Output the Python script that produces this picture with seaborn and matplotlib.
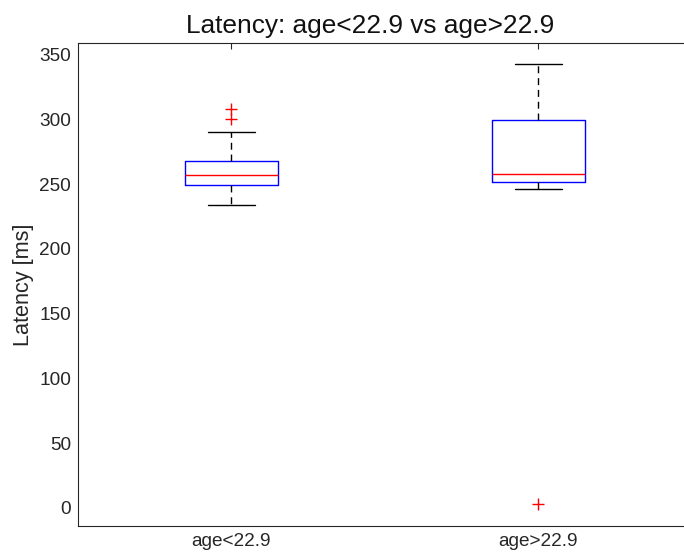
import numpy as np
import pandas as pd
import matplotlib
matplotlib.use("Agg")
import matplotlib.pyplot as plt
import seaborn as sns

# Data (values chosen to reproduce the box statistics)
categories = ["age<22.9", "age>22.9"]
young_latency = [233.7, 249.1, 249.1, 249.1, 257.1, 257.1, 257.1,
                 268.2, 268.2, 268.2, 290.0, 300.1, 307.8]
old_latency = [2.8, 246.6, 252.0, 252.0, 257.6, 257.6, 299.8, 299.8, 342.8]
title_text = "Latency: age<22.9 vs age>22.9"
ylabel_text = "Latency [ms]"
yticks = [0, 50, 100, 150, 200, 250, 300, 350]

df = pd.DataFrame({
    "group": [categories[0]] * len(young_latency) + [categories[1]] * len(old_latency),
    "latency": young_latency + old_latency,
})

sns.set_style("white")
plt.rcParams["font.family"] = ["Liberation Sans", "DejaVu Sans"]

fig = plt.figure(figsize=(6.84, 5.58), dpi=100)
ax = fig.add_axes([78 / 684, 1 - 525.7 / 558, 614 / 684, (525.7 - 43) / 558])

sns.boxplot(
    data=df, x="group", y="latency", order=categories, ax=ax,
    fill=False, width=0.3, whis=1.5, linewidth=1.0,
    boxprops=dict(color="#0000ff"),
    medianprops=dict(color="#ff0000"),
    whiskerprops=dict(color="black", linestyle=(0, (5, 3.5))),
    capprops=dict(color="black"),
    flierprops=dict(marker="+", markeredgecolor="#ff0000", markersize=9,
                    markeredgewidth=1.0),
)

ax.set_xlim(-0.5, 1.5)
ax.set_ylim(-13.7, 359)
ax.set_yticks(yticks)
ax.set_xlabel("")
ax.set_ylabel(ylabel_text, fontsize=15.6, color="#262626")
ax.set_title(title_text, fontsize=18.9, color="#111111", pad=7,
             x=(370 - 78) / 614)

for sp in ax.spines.values():
    sp.set_visible(True)
    sp.set_color("#262626")
    sp.set_linewidth(0.8)
ax.spines["right"].set_visible(False)
ax.tick_params(direction="in", length=4, width=0.8, top=True, right=False,
               labelsize=13.7, colors="#262626", labelcolor="#262626", pad=5)

fig.savefig("out.png", dpi=100)
